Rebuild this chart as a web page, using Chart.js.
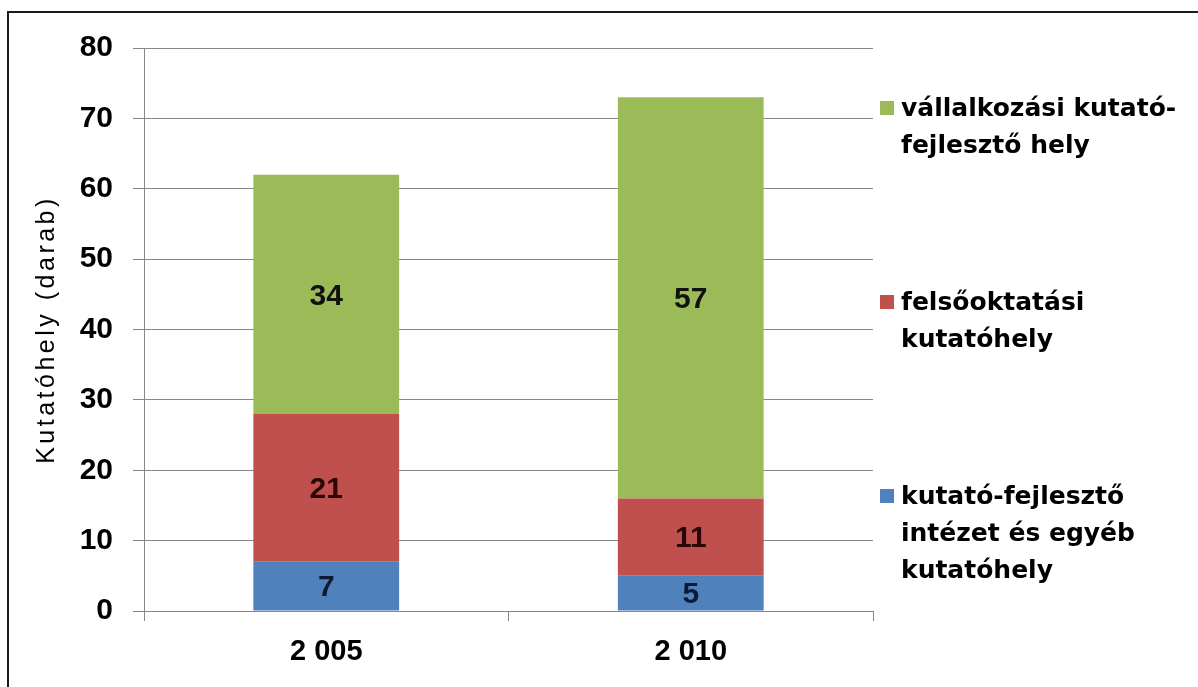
<!DOCTYPE html>
<html>
<head>
<meta charset="utf-8">
<script src="https://cdn.jsdelivr.net/npm/chart.js@4.4.1/dist/chart.umd.min.js"></script>
<style>
    body { margin: 0; background: #fff; }
    #wrap { position: relative; width: 1198px; height: 687px; }
</style>
</head>
<body>
<div id="wrap"><canvas id="kutatohelyChart"></canvas></div>
<script>
// Chart data
const years = ['2 005', '2 010'];
const kutatoIntezet = [7, 5];
const felsooktatasi = [21, 11];
const vallalkozasi = [34, 57];
const seriesNames = [
    'kutató-fejlesztő intézet és egyéb kutatóhely',
    'felsőoktatási kutatóhely',
    'vállalkozási kutató-fejlesztő hely'
];
// legend text broken into lines like the original
const legendLines = [
    ['kutató-fejlesztő', 'intézet és egyéb', 'kutatóhely'],
    ['felsőoktatási', 'kutatóhely'],
    ['vállalkozási kutató-', 'fejlesztő hely']
];
const yTitle = 'Kutatóhely (darab)';
const yMin = 0, yMax = 80, yStep = 10;

const FONT = '"Liberation Sans", Arial, sans-serif';
const LEGEND_FONT = '"DejaVu Sans", "Liberation Sans", sans-serif';
const gridColor = '#878787';

// value labels in the middle of each segment
const segmentLabels = {
    id: 'segmentLabels',
    afterDatasetsDraw(chart) {
        const ctx = chart.ctx;
        ctx.save();
        ctx.font = 'bold 30px ' + FONT;
        ctx.textAlign = 'center';
        ctx.textBaseline = 'middle';
        chart.data.datasets.forEach((ds, i) => {
            const meta = chart.getDatasetMeta(i);
            meta.data.forEach((bar, j) => {
                ctx.fillStyle = ds.labelColor;
                ctx.fillText(ds.data[j], bar.x, (bar.y + bar.base) / 2 + 2);
            });
        });
        ctx.restore();
    }
};

// frame, axis title and the multi-line legend
const decorations = {
    id: 'decorations',
    afterDraw(chart) {
        const ctx = chart.ctx;
        const area = chart.chartArea;
        ctx.save();

        // outer frame (only top and left are visible)
        ctx.strokeStyle = '#1a1a1a';
        ctx.lineWidth = 2;
        ctx.beginPath();
        ctx.moveTo(8, 700);
        ctx.lineTo(8, 12);
        ctx.lineTo(1200, 12);
        ctx.stroke();

        // y axis title
        ctx.fillStyle = '#000';
        ctx.font = '25px ' + FONT;
        ctx.letterSpacing = '3.5px';
        ctx.textAlign = 'center';
        ctx.textBaseline = 'middle';
        ctx.translate(47, (area.top + area.bottom) / 2);
        ctx.rotate(-Math.PI / 2);
        ctx.fillText(yTitle, 0, 0);
        ctx.setTransform(1, 0, 0, 1, 0, 0);

        // legend, top item first
        const startY = [496, 302, 108];
        ctx.font = 'bold 25px ' + LEGEND_FONT;
        ctx.letterSpacing = '0px';
        ctx.textAlign = 'left';
        chart.data.datasets.forEach((ds, i) => {
            const y0 = startY[i];
            ctx.fillStyle = ds.backgroundColor;
            ctx.fillRect(880, y0 - 7, 14, 14);
            ctx.fillStyle = '#000';
            legendLines[i].forEach((line, k) => {
                ctx.fillText(line, 901, y0 + k * 37 + 1);
            });
        });
        ctx.restore();
    }
};

const ctx = document.getElementById('kutatohelyChart').getContext('2d');
new Chart(ctx, {
    type: 'bar',
    data: {
        labels: years,
        datasets: [
            { label: seriesNames[0], data: kutatoIntezet, backgroundColor: '#4F81BD', labelColor: '#0c1a33' },
            { label: seriesNames[1], data: felsooktatasi, backgroundColor: '#C0504D', labelColor: '#2a0808' },
            { label: seriesNames[2], data: vallalkozasi, backgroundColor: '#9BBB59', labelColor: '#111' }
        ]
    },
    options: {
        responsive: true,
        maintainAspectRatio: false,
        animation: false,
        devicePixelRatio: 1,
        layout: { padding: { top: 48, right: 325, left: 0, bottom: 0 } },
        datasets: { bar: { categoryPercentage: 1, barPercentage: 0.4 } },
        plugins: {
            legend: { display: false },
            tooltip: { enabled: false }
        },
        scales: {
            x: {
                stacked: true,
                afterFit: scale => { scale.height = 76; },
                grid: {
                    offset: true,
                    drawOnChartArea: false,
                    drawTicks: true,
                    tickLength: 10,
                    color: gridColor
                },
                border: { color: gridColor, width: 1 },
                ticks: {
                    color: '#000',
                    padding: 14,
                    font: { family: FONT, size: 29, weight: 'bold' }
                }
            },
            y: {
                stacked: true,
                min: yMin,
                max: yMax,
                afterFit: scale => { scale.width = 144; },
                grid: {
                    color: gridColor,
                    tickLength: 11,
                    lineWidth: 1
                },
                border: { color: gridColor, width: 1 },
                ticks: {
                    stepSize: yStep,
                    color: '#000',
                    padding: 20,
                    font: { family: FONT, size: 30, weight: 'bold' }
                }
            }
        }
    },
    plugins: [segmentLabels, decorations]
});
</script>
</body>
</html>
